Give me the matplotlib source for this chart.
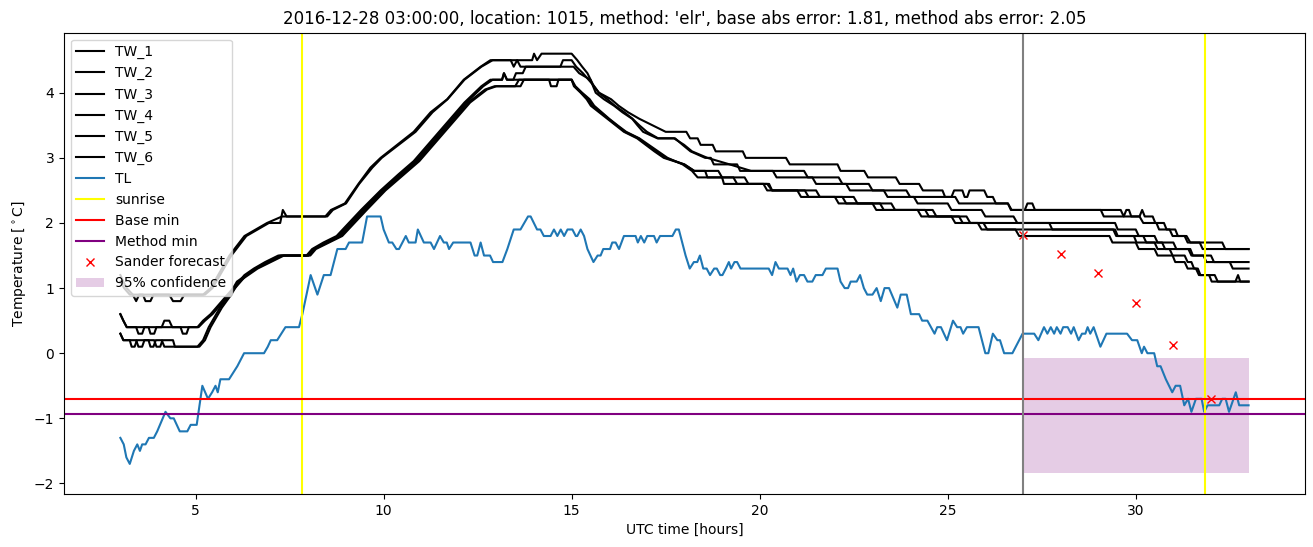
import matplotlib
matplotlib.use("Agg")
import matplotlib.pyplot as plt
import numpy as np

# (hour, temperature) vertices
TW_1 = [(3.0, 1.2), (3.08, 1.1), (3.17, 1.0), (3.33, 0.9), (3.42, 0.8), (3.5, 0.9), (4.3, 0.9), (4.4, 0.8),
        (4.6, 0.8), (4.7, 0.9), (5.2, 0.9), (5.4, 1.0), (5.9, 1.5), (6.3, 1.8), (6.6, 1.9), (6.9, 2.0),
        (7.3, 2.1), (8.45, 2.1), (8.6, 2.2), (8.97, 2.3), (9.33, 2.6), (9.65, 2.85), (9.92, 3.0), (10.36, 3.2),
        (10.8, 3.4), (11.25, 3.7), (11.69, 3.9), (12.13, 4.2), (12.58, 4.4), (12.84, 4.5), (13.38, 4.5),
        (13.46, 4.4), (13.55, 4.5), (13.95, 4.5), (14.0, 4.6), (14.08, 4.5), (14.2, 4.6), (15.0, 4.6),
        (15.15, 4.5), (15.28, 4.4), (15.42, 4.3), (15.59, 4.1), (15.73, 4.0), (16.05, 3.9), (16.25, 3.8),
        (16.5, 3.7), (16.8, 3.6), (17.15, 3.5), (17.5, 3.4), (18.05, 3.4), (18.15, 3.3), (18.35, 3.3),
        (18.43, 3.2), (18.75, 3.2), (18.83, 3.1), (19.55, 3.1), (19.63, 3.0), (20.7, 3.0), (20.8, 2.9),
        (22.07, 2.9), (22.15, 2.8), (22.78, 2.8), (22.88, 2.7), (23.62, 2.7), (23.72, 2.6), (24.24, 2.6),
        (24.34, 2.5), (24.86, 2.5), (24.93, 2.4), (25.1, 2.4), (25.17, 2.5), (25.39, 2.5), (25.45, 2.4),
        (25.52, 2.4), (25.58, 2.5), (25.97, 2.5), (26.05, 2.4), (26.2, 2.4), (26.28, 2.3), (26.6, 2.3),
        (26.68, 2.2), (27.05, 2.2), (27.12, 2.3), (27.25, 2.3), (27.32, 2.2), (29.6, 2.2), (29.68, 2.1),
        (29.75, 2.2), (29.82, 2.2), (29.88, 2.1), (30.1, 2.1), (30.17, 2.2), (30.24, 2.1), (30.45, 2.1),
        (30.52, 2.0), (30.75, 2.0), (30.82, 1.9), (31.05, 1.9), (31.12, 1.8), (31.3, 1.8), (31.38, 1.7),
        (32.3, 1.7), (32.38, 1.6), (33.0, 1.6)]
TW_2 = [(3.0, 1.1), (3.1, 1.0), (3.25, 0.9), (3.6, 0.9), (3.67, 0.8), (3.8, 0.8), (3.88, 0.9), (5.25, 0.9),
        (5.45, 1.0), (5.95, 1.5), (6.35, 1.8), (6.95, 2.0), (7.25, 2.0), (7.32, 2.2), (7.42, 2.1), (8.5, 2.1),
        (8.65, 2.2), (9.0, 2.3), (9.35, 2.6), (9.7, 2.85), (9.95, 3.0), (10.4, 3.2), (10.85, 3.4), (11.3, 3.7),
        (11.7, 3.9), (12.15, 4.2), (12.6, 4.4), (12.9, 4.5), (13.55, 4.5), (13.64, 4.4), (14.7, 4.4),
        (14.77, 4.5), (15.0, 4.5), (15.12, 4.4), (15.3, 4.3), (15.45, 4.2), (15.6, 4.1), (15.72, 4.0),
        (15.95, 3.9), (16.15, 3.8), (16.4, 3.7), (16.62, 3.6), (16.8, 3.5), (17.0, 3.4), (17.3, 3.3),
        (17.75, 3.3), (17.95, 3.2), (18.16, 3.1), (18.55, 3.0), (18.7, 3.0), (18.78, 2.9), (19.4, 2.9),
        (19.48, 2.8), (21.18, 2.8), (21.28, 2.7), (22.1, 2.7), (22.2, 2.6), (22.9, 2.6), (23.0, 2.5),
        (23.9, 2.5), (24.0, 2.4), (25.2, 2.4), (25.3, 2.3), (26.6, 2.3), (26.7, 2.2), (29.07, 2.2),
        (29.15, 2.1), (30.1, 2.1), (30.2, 2.0), (30.55, 2.0), (30.62, 1.9), (30.9, 1.9), (30.98, 1.8),
        (31.35, 1.8), (31.45, 1.7), (31.7, 1.7), (31.78, 1.6), (33.0, 1.6)]
TW_3 = [(3.0, 0.6), (3.08, 0.5), (3.17, 0.4), (4.1, 0.4), (4.17, 0.5), (4.3, 0.5), (4.38, 0.4), (5.05, 0.4),
        (5.2, 0.5), (5.4, 0.6), (5.7, 0.8), (6.0, 1.0), (6.3, 1.2), (6.55, 1.3), (6.85, 1.4), (7.2, 1.5),
        (7.95, 1.5), (8.1, 1.6), (8.4, 1.7), (8.75, 1.8), (9.4, 2.2), (9.92, 2.5), (10.4, 2.75), (10.8, 2.95),
        (11.25, 3.25), (11.7, 3.55), (12.15, 3.85), (12.6, 4.1), (12.84, 4.2), (13.15, 4.2), (13.2, 4.3),
        (13.28, 4.2), (13.45, 4.2), (13.52, 4.3), (13.7, 4.3), (13.78, 4.4), (15.05, 4.4), (15.2, 4.3),
        (15.5, 4.2), (15.64, 4.0), (15.86, 3.9), (16.13, 3.8), (16.35, 3.7), (16.61, 3.6), (16.75, 3.5),
        (16.9, 3.4), (17.28, 3.3), (17.72, 3.3), (17.99, 3.2), (18.2, 3.1), (18.61, 3.0), (19.2, 2.9),
        (19.77, 2.8), (20.35, 2.8), (20.45, 2.7), (21.4, 2.7), (21.5, 2.6), (22.3, 2.6), (22.4, 2.5),
        (23.3, 2.5), (23.4, 2.4), (24.1, 2.4), (24.2, 2.3), (25.0, 2.3), (25.1, 2.2), (25.9, 2.2),
        (26.0, 2.1), (26.75, 2.1), (26.85, 2.0), (29.45, 2.0), (29.52, 1.9), (30.0, 1.9), (30.08, 1.8),
        (30.5, 1.8), (30.58, 1.7), (31.0, 1.7), (31.08, 1.6), (31.45, 1.6), (31.52, 1.5), (31.8, 1.5),
        (31.88, 1.4), (33.0, 1.4)]
TW_4 = [(3.0, 0.6), (3.08, 0.5), (3.17, 0.4), (3.42, 0.4), (3.48, 0.3), (3.58, 0.3), (3.64, 0.4), (3.75, 0.4),
        (3.8, 0.3), (3.9, 0.3), (3.96, 0.4), (4.6, 0.4), (4.66, 0.3), (4.76, 0.3), (4.82, 0.4), (5.08, 0.4),
        (5.25, 0.5), (5.45, 0.6), (5.75, 0.8), (6.05, 1.0), (6.35, 1.2), (6.6, 1.3), (6.9, 1.4), (7.25, 1.5),
        (8.0, 1.5), (8.15, 1.6), (8.45, 1.7), (8.8, 1.8), (9.45, 2.2), (9.95, 2.5), (10.45, 2.75),
        (10.85, 2.95), (11.3, 3.25), (11.75, 3.55), (12.2, 3.85), (12.65, 4.1), (12.9, 4.2), (13.15, 4.2),
        (13.2, 4.3), (13.28, 4.2), (15.0, 4.2), (15.06, 4.1), (15.24, 4.0), (15.4, 3.9), (15.51, 3.8),
        (15.73, 3.7), (15.95, 3.6), (16.17, 3.5), (16.39, 3.4), (16.74, 3.3), (16.97, 3.2), (17.2, 3.1),
        (17.45, 3.0), (17.99, 2.9), (18.26, 2.8), (18.9, 2.8), (19.0, 2.7), (19.6, 2.7), (19.7, 2.6),
        (20.25, 2.6), (20.33, 2.5), (21.2, 2.5), (21.3, 2.4), (22.0, 2.4), (22.1, 2.3), (23.0, 2.3),
        (23.1, 2.2), (24.2, 2.2), (24.3, 2.1), (25.5, 2.1), (25.6, 2.0), (27.7, 2.0), (27.78, 1.9),
        (29.45, 1.9), (29.52, 1.8), (30.2, 1.8), (30.28, 1.7), (30.7, 1.7), (30.78, 1.6), (31.4, 1.6),
        (31.48, 1.5), (32.0, 1.5), (32.08, 1.4), (32.5, 1.4), (32.58, 1.3), (33.0, 1.3)]
TW_5 = [(3.0, 0.3), (3.08, 0.2), (3.42, 0.2), (3.48, 0.1), (3.58, 0.1), (3.64, 0.2), (3.9, 0.2), (3.96, 0.1),
        (4.06, 0.1), (4.12, 0.2), (4.4, 0.2), (4.45, 0.1), (5.05, 0.1), (5.2, 0.2), (5.35, 0.4), (5.65, 0.7),
        (5.9, 0.9), (6.1, 1.1), (6.35, 1.2), (6.6, 1.3), (6.95, 1.4), (7.3, 1.5), (8.0, 1.5), (8.15, 1.6),
        (8.5, 1.7), (8.85, 1.8), (9.5, 2.2), (10.0, 2.5), (10.5, 2.75), (10.9, 2.95), (11.35, 3.25),
        (11.8, 3.55), (12.25, 3.85), (12.7, 4.05), (12.95, 4.1), (13.64, 4.1), (13.73, 4.2), (14.4, 4.2),
        (14.45, 4.1), (14.6, 4.1), (14.65, 4.2), (15.0, 4.2), (15.08, 4.1), (15.26, 4.0), (15.45, 3.9),
        (15.55, 3.8), (15.78, 3.7), (15.98, 3.6), (16.2, 3.5), (16.42, 3.4), (16.78, 3.3), (17.0, 3.2),
        (17.25, 3.1), (17.5, 3.0), (18.0, 2.9), (18.26, 2.8), (18.55, 2.8), (18.61, 2.7), (19.0, 2.7),
        (19.05, 2.6), (20.2, 2.6), (20.33, 2.5), (21.5, 2.5), (21.6, 2.4), (22.5, 2.4), (22.6, 2.3),
        (23.5, 2.3), (23.6, 2.2), (24.6, 2.2), (24.7, 2.1), (25.3, 2.1), (25.4, 2.0), (25.95, 2.0),
        (26.05, 1.9), (29.4, 1.9), (29.48, 1.8), (29.95, 1.8), (30.02, 1.7), (30.5, 1.7), (30.58, 1.6),
        (30.9, 1.6), (30.98, 1.5), (31.3, 1.5), (31.38, 1.4), (31.48, 1.4), (31.55, 1.3), (31.65, 1.3),
        (31.72, 1.2), (32.1, 1.2), (32.18, 1.1), (32.65, 1.1), (32.72, 1.2), (32.78, 1.1), (33.0, 1.1)]
TW_6 = [(3.0, 0.3), (3.08, 0.2), (3.25, 0.2), (3.3, 0.1), (3.38, 0.1), (3.44, 0.2), (3.75, 0.2), (3.8, 0.1),
        (3.88, 0.1), (3.94, 0.2), (4.1, 0.2), (4.17, 0.1), (5.1, 0.1), (5.25, 0.2), (5.4, 0.4), (5.7, 0.7),
        (5.95, 0.9), (6.15, 1.1), (6.4, 1.2), (6.65, 1.3), (7.0, 1.4), (7.35, 1.5), (8.05, 1.5), (8.2, 1.6),
        (8.55, 1.7), (8.9, 1.8), (9.55, 2.2), (10.05, 2.5), (10.55, 2.75), (10.95, 2.95), (11.4, 3.25),
        (11.85, 3.55), (12.3, 3.85), (12.75, 4.05), (13.0, 4.1), (13.5, 4.1), (13.6, 4.2), (15.0, 4.2),
        (15.1, 4.1), (15.28, 4.0), (15.48, 3.9), (15.6, 3.8), (15.8, 3.7), (16.0, 3.6), (16.22, 3.5),
        (16.45, 3.4), (16.8, 3.3), (17.05, 3.2), (17.3, 3.1), (17.55, 3.0), (17.95, 2.9), (18.2, 2.8),
        (18.35, 2.7), (19.3, 2.7), (19.4, 2.6), (20.1, 2.6), (20.2, 2.5), (21.0, 2.5), (21.1, 2.4),
        (22.2, 2.4), (22.3, 2.3), (23.2, 2.3), (23.3, 2.2), (24.4, 2.2), (24.5, 2.1), (25.1, 2.1),
        (25.2, 2.0), (25.8, 2.0), (25.9, 1.9), (26.8, 1.9), (26.9, 1.8), (29.3, 1.8), (29.38, 1.7),
        (30.0, 1.7), (30.08, 1.6), (30.5, 1.6), (30.58, 1.5), (30.98, 1.5), (31.05, 1.4), (31.3, 1.4),
        (31.38, 1.3), (31.6, 1.3), (31.68, 1.2), (31.95, 1.2), (32.02, 1.1), (33.0, 1.1)]

TL = [(3.0, -1.3), (3.09, -1.4), (3.16, -1.6), (3.25, -1.7), (3.36, -1.5), (3.45, -1.4), (3.52, -1.5),
      (3.58, -1.4), (3.67, -1.4), (3.76, -1.3), (3.89, -1.3), (3.98, -1.2), (4.2, -0.9), (4.33, -1.0),
      (4.42, -1.0), (4.58, -1.2), (4.78, -1.2), (4.87, -1.1), (5.03, -1.1), (5.18, -0.5), (5.33, -0.7),
      (5.44, -0.6), (5.53, -0.5), (5.59, -0.6), (5.66, -0.4), (5.89, -0.4), (6.0, -0.3), (6.11, -0.2),
      (6.29, 0.0), (6.82, 0.0), (6.92, 0.1), (7.0, 0.2), (7.17, 0.2), (7.28, 0.3), (7.39, 0.4), (7.75, 0.4),
      (7.84, 0.6), (8.06, 1.2), (8.24, 0.9), (8.41, 1.2), (8.59, 1.2), (8.77, 1.6), (8.99, 1.6), (9.08, 1.7),
      (9.43, 1.7), (9.56, 2.1), (9.92, 2.1), (10.0, 1.9), (10.14, 1.7), (10.23, 1.7), (10.34, 1.6),
      (10.41, 1.6), (10.59, 1.8), (10.67, 1.7), (10.85, 1.7), (10.91, 1.9), (11.07, 1.7), (11.25, 1.7),
      (11.34, 1.6), (11.5, 1.8), (11.6, 1.7), (11.68, 1.7), (11.74, 1.6), (11.85, 1.7), (12.31, 1.7),
      (12.42, 1.5), (12.49, 1.5), (12.58, 1.7), (12.67, 1.5), (12.83, 1.5), (12.91, 1.4), (13.16, 1.4),
      (13.29, 1.6), (13.46, 1.9), (13.64, 1.9), (13.84, 2.1), (13.91, 2.1), (14.08, 1.9), (14.17, 1.9),
      (14.26, 1.8), (14.44, 1.8), (14.53, 1.9), (14.62, 1.8), (14.71, 1.9), (14.8, 1.8), (14.89, 1.9),
      (15.02, 1.9), (15.11, 1.8), (15.15, 1.8), (15.24, 1.9), (15.33, 1.8), (15.42, 1.6), (15.58, 1.4),
      (15.69, 1.5), (15.77, 1.5), (15.84, 1.6), (16.02, 1.6), (16.08, 1.7), (16.17, 1.7), (16.26, 1.6),
      (16.39, 1.8), (16.7, 1.8), (16.76, 1.7), (16.84, 1.8), (16.93, 1.7), (17.01, 1.8), (17.19, 1.8),
      (17.26, 1.7), (17.35, 1.8), (17.68, 1.8), (17.77, 1.9), (17.85, 1.9), (17.94, 1.7), (18.03, 1.5),
      (18.14, 1.3), (18.25, 1.4), (18.34, 1.4), (18.41, 1.5), (18.5, 1.3), (18.59, 1.3), (18.68, 1.2),
      (18.79, 1.3), (18.86, 1.3), (18.95, 1.2), (19.01, 1.2), (19.1, 1.3), (19.18, 1.4), (19.24, 1.3),
      (19.33, 1.4), (19.4, 1.4), (19.49, 1.3), (20.24, 1.3), (20.33, 1.2), (20.42, 1.4), (20.51, 1.3),
      (20.74, 1.3), (20.82, 1.2), (20.89, 1.3), (20.98, 1.1), (21.07, 1.2), (21.18, 1.2), (21.27, 1.1),
      (21.4, 1.1), (21.49, 1.2), (21.67, 1.2), (21.76, 1.3), (22.07, 1.3), (22.15, 1.1), (22.26, 1.0),
      (22.35, 1.0), (22.42, 1.1), (22.58, 1.1), (22.67, 1.2), (22.77, 1.0), (22.86, 0.9), (23.0, 0.9),
      (23.11, 1.0), (23.22, 0.8), (23.32, 1.0), (23.44, 1.0), (23.66, 0.7), (23.75, 0.9), (23.91, 0.9),
      (24.02, 0.6), (24.24, 0.6), (24.32, 0.5), (24.46, 0.5), (24.65, 0.3), (24.72, 0.4), (24.82, 0.4),
      (24.98, 0.2), (25.14, 0.5), (25.25, 0.4), (25.34, 0.4), (25.41, 0.3), (25.51, 0.4), (25.82, 0.4),
      (25.91, 0.2), (26.0, 0.0), (26.08, 0.0), (26.2, 0.3), (26.32, 0.2), (26.39, 0.2), (26.5, 0.0),
      (26.72, 0.0), (26.99, 0.3), (27.3, 0.3), (27.41, 0.2), (27.56, 0.4), (27.65, 0.3), (27.74, 0.4),
      (27.83, 0.3), (27.9, 0.4), (28.0, 0.3), (28.07, 0.4), (28.19, 0.4), (28.28, 0.3), (28.35, 0.4),
      (28.48, 0.2), (28.57, 0.3), (28.66, 0.3), (28.72, 0.4), (28.79, 0.3), (28.88, 0.4), (29.06, 0.1),
      (29.22, 0.3), (29.77, 0.3), (29.9, 0.2), (30.04, 0.2), (30.16, 0.0), (30.22, 0.1), (30.31, 0.0),
      (30.49, 0.0), (30.57, -0.2), (30.66, -0.2), (30.8, -0.4), (30.97, -0.6), (31.06, -0.5), (31.18, -0.5),
      (31.29, -0.8), (31.39, -0.7), (31.48, -0.9), (31.6, -0.7), (31.75, -0.7), (31.82, -0.9), (31.91, -0.8),
      (32.22, -0.8), (32.3, -0.7), (32.39, -0.7), (32.48, -0.9), (32.6, -0.7), (32.66, -0.6), (32.75, -0.8),
      (33.0, -0.8)]

sunrise_hours = [7.83, 31.83]
forecast_start = 27
base_min = -0.70
method_min = -0.94
sander_hours = [27, 28, 29, 30, 31, 32]
sander_temp = [1.81, 1.53, 1.23, 0.77, 0.12, -0.71]
conf_hours = [27, 33]
conf_low = [-1.84, -1.84]
conf_high = [-0.07, -0.07]

title = ("2016-12-28 03:00:00, location: 1015, method: 'elr', "
         "base abs error: 1.81, method abs error: 2.05")

fig = plt.figure(figsize=(13.13, 5.47), dpi=100)
ax = fig.add_axes([0.0487, 0.0969, 0.9452, 0.8433])

for name, series in [("TW_1", TW_1), ("TW_2", TW_2), ("TW_3", TW_3),
                     ("TW_4", TW_4), ("TW_5", TW_5), ("TW_6", TW_6)]:
    hrs, temp = np.array(series).T
    ax.plot(hrs, temp, color="black", label=name)

hrs, temp = np.array(TL).T
ax.plot(hrs, temp, color="C0", label="TL")

for i, h in enumerate(sunrise_hours):
    ax.axvline(h, color="yellow", label="sunrise" if i == 0 else None)
ax.axhline(base_min, color="red", label="Base min")
ax.axhline(method_min, color="purple", label="Method min")
ax.plot(sander_hours, sander_temp, "rx", label="Sander forecast")
ax.fill_between(conf_hours, conf_low, conf_high, color="purple", alpha=0.2,
                linewidth=0, label="95% confidence")
ax.axvline(forecast_start, color="grey")

ax.set_title(title)
ax.set_xlabel("UTC time [hours]")
ax.set_ylabel("Temperature [$^\\circ$C]")
ax.legend(loc="upper left")

fig.savefig("out.png", dpi=100)
